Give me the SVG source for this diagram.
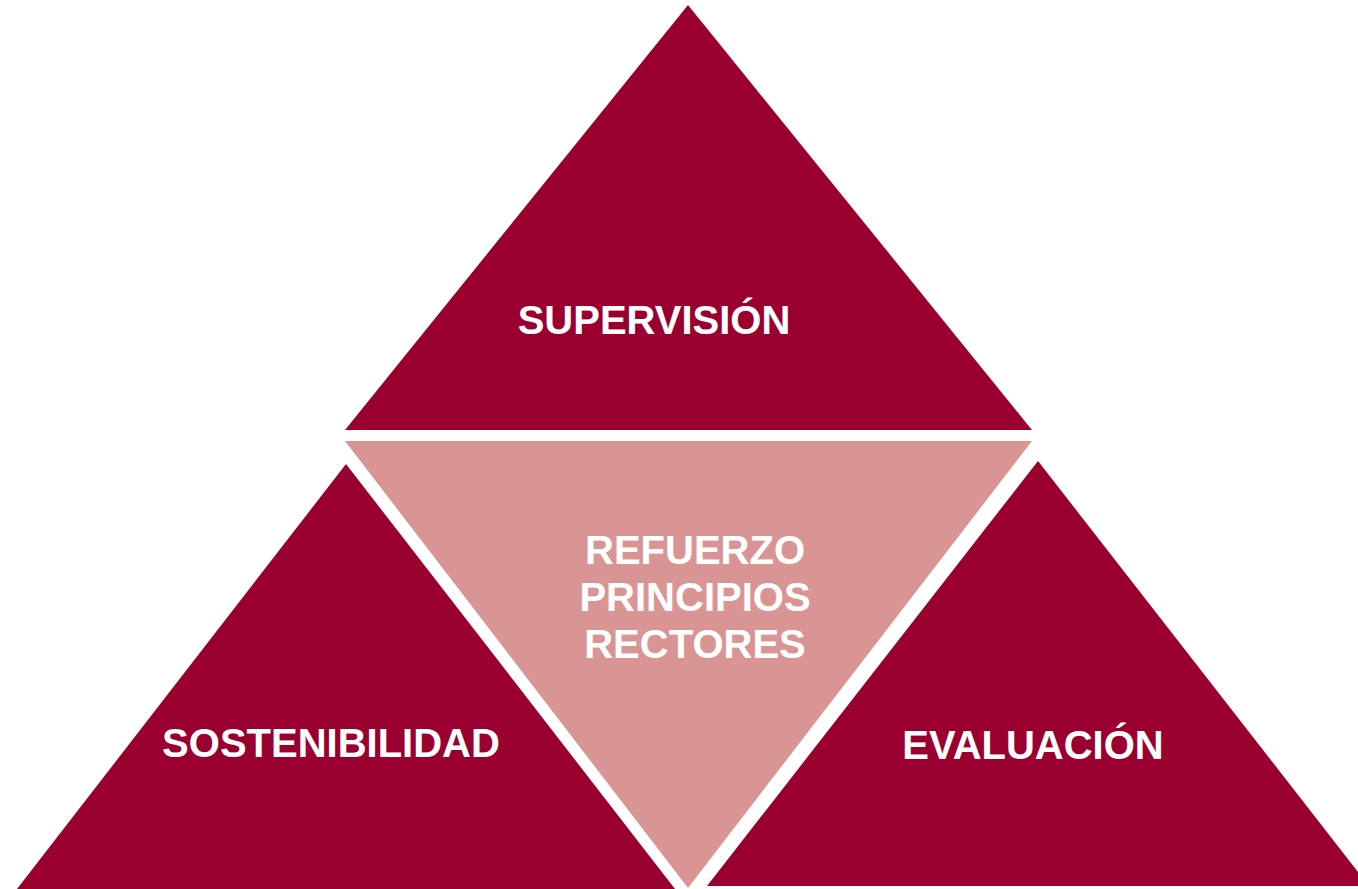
<svg xmlns="http://www.w3.org/2000/svg" width="1358" height="889" viewBox="0 0 1358 889">
<style>
.dark{fill:#990030}
.pink{fill:#D99594}
.lbl{font-family:"Liberation Sans",Arial,sans-serif;font-weight:bold;font-size:40px;fill:#FFFFFF;text-anchor:middle}
</style>
<rect width="1358" height="889" fill="#FFFFFF"/>
<g id="supervision">
<polygon class="dark" points="688,5 1032,430 345,430"/>
<text class="lbl" x="654" y="334">SUPERVISIÓN</text>
</g>
<g id="principios">
<polygon class="pink" points="345,441 1032,441 688,888"/>
<text class="lbl" x="695" y="564">REFUERZO</text>
<text class="lbl" x="695" y="611">PRINCIPIOS</text>
<text class="lbl" x="695" y="658">RECTORES</text>
</g>
<g id="sostenibilidad">
<polygon class="dark" points="346,464 675,889 17,889"/>
<text class="lbl" x="331" y="757">SOSTENIBILIDAD</text>
</g>
<g id="evaluacion">
<polygon class="dark" points="1038,461 1369,886 707,886"/>
<text class="lbl" x="1033" y="759">EVALUACIÓN</text>
</g>
<g id="connectors"></g>
</svg>
